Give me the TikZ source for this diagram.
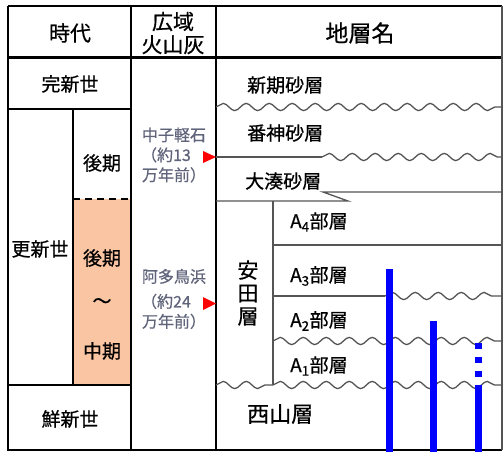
\documentclass[tikz,border=0pt]{standalone}
\usepackage{fontspec}
\setmainfont{Noto Sans CJK JP}[FakeBold=0.6]
\usetikzlibrary{positioning,decorations.pathmorphing}
\definecolor{peach}{RGB}{249,197,162}
\definecolor{notegray}{RGB}{95,100,122}
\definecolor{seamgray}{RGB}{85,85,85}

\begin{document}
\begin{tikzpicture}[
    x=1pt, y=-1pt,
    frameline/.style={line width=1.8pt},
    seam/.style={draw=seamgray, line width=1.3pt},
    wave/.style={seam, decorate, decoration={snake, segment length=23pt, amplitude=3.6pt}},
    hdr/.style={font=\fontsize{21}{23}\selectfont, align=center, inner sep=0pt},
    lbl/.style={font=\fontsize{19}{22}\selectfont, inner sep=0pt},
    note/.style={font=\fontsize{16}{20}\selectfont, text=notegray, align=center, inner sep=0pt},
    borebar/.style={line width=7pt, draw={rgb,255:red,0;green,0;blue,255}},
    tri/.style={fill=red}
  ]
    \useasboundingbox (0,0) rectangle (504,452);

    % fills first
    \fill[peach] (73,199) rectangle (131,385);

    % table frame
    \draw[frameline] (8,6) -- (502,6);
    \draw[line width=3pt] (8,58) -- (502,58);
    \draw[frameline] (8,6) -- (8,450) -- (502,450);
    \draw[frameline] (131,6) -- (131,450);
    \draw[line width=2.4pt] (216,6) -- (216,450);
    \draw[seam] (502,6) -- (502,450);
    \draw[frameline] (8,109) -- (131,109);
    \draw[frameline] (8,385) -- (131,385);
    \draw[frameline] (73,109) -- (73,385);
    \draw[frameline, dash pattern=on 7pt off 5pt] (73,199) -- (131,199);

    % headers
    \node[hdr] (jidai) at (70,33) {時代};
    \node[hdr] (kouiki) at (173,33) {広域\\火山灰};
    \node[hdr, font=\fontsize{23}{25}\selectfont] (chisoumei) at (360,33) {地層名};

    % ages
    \node[lbl] (kanshinsei) at (70,84) {完新世};
    \node[lbl] (koushinsei) at (40,249) {更新世};
    \node[lbl] (kouki) at (102,163) {後期};
    \node[lbl] (kouki2) at (102,258) {後期};
    \node[lbl] (nami) at (102,303) {～};
    \node[lbl] (chuuki) at (102,351) {中期};
    \node[lbl] (senshinsei) at (70,419) {鮮新世};

    % tephra
    \node[note] (nakago) at (174,155) {中子軽石\\（約13\phantom{）}\\万年前）};
    \node[note] (ata) at (174,299) {阿多鳥浜\\[5pt]（約24\phantom{）}\\万年前）};
    \fill[tri] (203,151) -- (216,157) -- (203,163) -- cycle;
    \fill[tri] (203,297) -- (216,303.5) -- (203,310) -- cycle;

    % strata boundaries
    \draw[wave] (216,107) -- (502,107);
    \draw[seam] (216,157) -- (322,157);
    \draw[wave] (322,157) -- (502,157);
    \draw[seam] (216,201) -- (348,201) -- (323,192) -- (502,192);
    \draw[seam] (273,201) -- (273,385);
    \draw[seam, line width=1.6pt] (273,245) -- (502,245);
    \draw[seam] (273,296) -- (385,296);
    \draw[wave] (385,296) -- (502,296);
    \draw[wave] (273,341) -- (502,341);
    \draw[wave] (216,385) -- (273,385);
    \draw[wave] (273,385) -- (502,385);

    % strata names
    \node[lbl, anchor=west] (shinki) at (247,85) {新期砂層};
    \node[lbl, anchor=west] (banjin) at (247,133) {番神砂層};
    \node[lbl, anchor=west] (ominato) at (245,181) {大湊砂層};
    \node[lbl, anchor=west] (a4) at (290,222) {A\textsubscript{4}部層};
    \node[lbl, anchor=west] (a3) at (290,276) {A\textsubscript{3}部層};
    \node[lbl, anchor=west] (a2) at (290,321) {A\textsubscript{2}部層};
    \node[lbl, anchor=west] (a1) at (290,366) {A\textsubscript{1}部層};
    \node[hdr] (yasuda) at (248,293) {安\\田\\層};
    \node[lbl, anchor=west, font=\fontsize{22}{24}\selectfont] (nishiyama) at (247,414) {西山層};

    % bore bars
    \draw[borebar] (389,269) -- (389,452);
    \draw[borebar] (433,321) -- (433,452);
    \draw[borebar, dash pattern=on 6pt off 8pt] (478,343) -- (478,385);
    \draw[borebar] (478,385) -- (478,452);
  \end{tikzpicture}
\end{document}
